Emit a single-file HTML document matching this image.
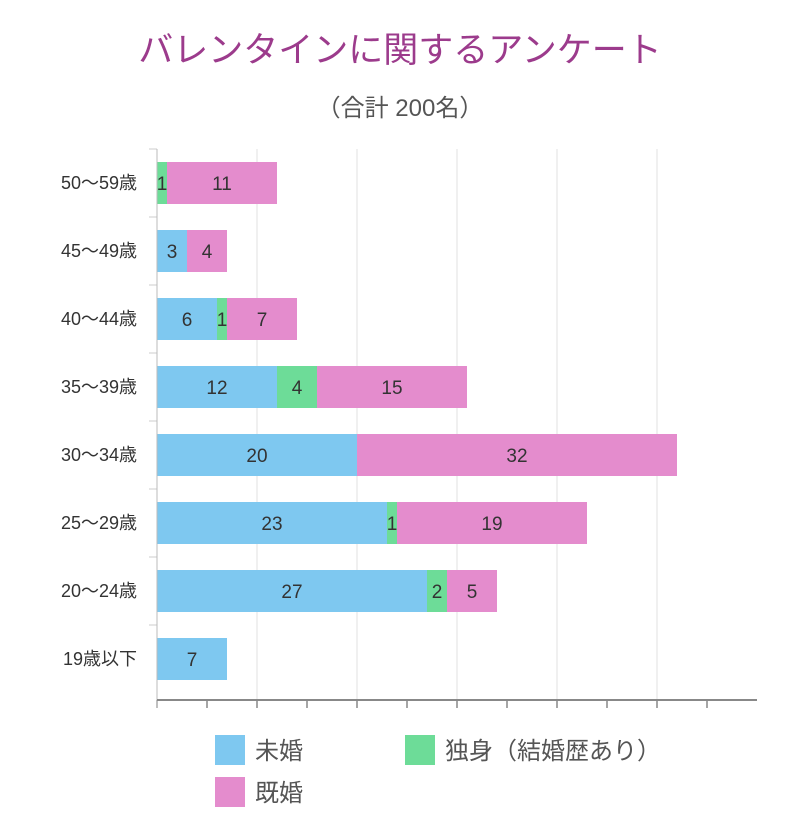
<!DOCTYPE html>
<html><head><meta charset="utf-8">
<style>
body{margin:0;background:#fff;}
svg{display:block;font-family:"Liberation Sans","Noto Sans CJK JP",sans-serif;}
</style></head>
<body>
<svg id="chart" width="800" height="840" viewBox="0 0 800 840">
<text x="400" y="62" text-anchor="middle" font-size="35" fill="#9c3b8c">バレンタインに関するアンケート</text>
<text x="400" y="116" text-anchor="middle" font-size="24" fill="#555">（合計 200名）</text>
<g id="grid"></g>
<g id="bars"></g>
<g id="axes"></g>
<g>
<rect x="215" y="735" width="30" height="30" fill="#7ec8f0"/>
<text x="255" y="759" font-size="24" fill="#555">未婚</text>
<rect x="405" y="735" width="30" height="30" fill="#6ddc98"/>
<text x="445" y="759" font-size="24" fill="#555">独身（結婚歴あり）</text>
<rect x="215" y="777" width="30" height="30" fill="#e48ccd"/>
<text x="255" y="801" font-size="24" fill="#555">既婚</text>
</g>
</svg>
<script>
const categories=["50〜59歳","45〜49歳","40〜44歳","35〜39歳","30〜34歳","25〜29歳","20〜24歳","19歳以下"];
const unmarried=[0,3,6,12,20,23,27,7];
const single=[1,0,1,4,0,1,2,0];
const married=[11,4,7,15,32,19,5,0];
const xTicks=[0,5,10,15,20,25,30,35,40,45,50,55,60];
const NS="http://www.w3.org/2000/svg";
const x0=157,pxPerUnit=10,top0=149,rowH=68,barH=42,axisY=700;
function xs(v){return x0+v*pxPerUnit;}
function rowY(i){return top0+i*rowH;}
function mk(tag,attrs,parent){const e=document.createElementNS(NS,tag);for(const k in attrs)e.setAttribute(k,attrs[k]);parent.appendChild(e);return e;}
const grid=document.getElementById('grid'),bars=document.getElementById('bars'),axes=document.getElementById('axes');
xTicks.forEach(t=>{
  if(t>0&&t<60&&t%10===0){const g=mk('line',{x1:xs(t),x2:xs(t),y1:top0,y2:axisY,stroke:'#e2e2e2','stroke-width':1},grid);
  
  }
  if(t<60){const tk=mk('line',{x1:xs(t),x2:xs(t),y1:axisY,y2:axisY+8,stroke:'#888','stroke-width':1.5},axes);
  
  }
});
const series=[[unmarried,'#7ec8f0','unmarried'],[single,'#6ddc98','single'],[married,'#e48ccd','married']];
categories.forEach((c,i)=>{
  const y=rowY(i)+(rowH-barH)/2;
  let acc=0;
  series.forEach(([arr,col,nm])=>{
    const v=arr[i];
    if(v>0){
      const r=mk('rect',{x:xs(acc),y:y,width:xs(acc+v)-xs(acc),height:barH,fill:col},bars);
      
      
      const t=mk('text',{x:(xs(acc)+xs(acc+v))/2,y:y+barH/2+7,'text-anchor':'middle','font-size':19,fill:'#333'},bars);
      t.textContent=v;
      
      
    }
    acc+=v;
  });
  const lb=mk('text',{x:137,y:rowY(i)+rowH/2+6,'text-anchor':'end','font-size':18,fill:'#333'},axes);
  lb.textContent=c;
  
  
  const ct=mk('line',{x1:149,x2:x0,y1:rowY(i),y2:rowY(i),stroke:'#ccc','stroke-width':1},axes);
  
  
});
const ya=mk('line',{x1:x0,x2:x0,y1:top0,y2:axisY+8,stroke:'#bbb','stroke-width':1},axes);


const xa=mk('line',{x1:x0,x2:xs(60),y1:axisY,y2:axisY,stroke:'#888','stroke-width':2},axes);


</script>
</body></html>
